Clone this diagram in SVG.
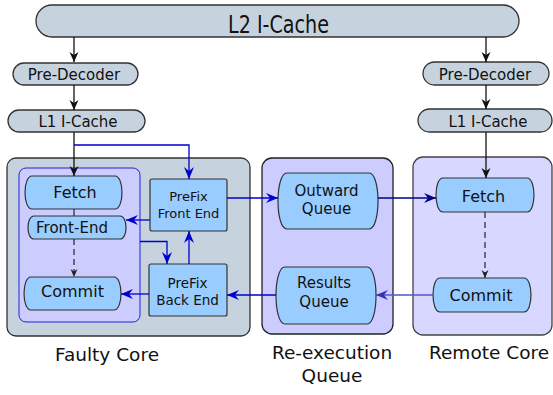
<svg xmlns="http://www.w3.org/2000/svg" width="553" height="395" viewBox="0 0 553 395">
<style>
text{font-family:"DejaVu Sans","Liberation Sans",sans-serif;fill:#111;text-anchor:middle}
.gray{fill:#c6d3df;stroke:#333;stroke-width:1.3}
.node{fill:#99ccff;stroke:#333;stroke-width:1.2}
.blk{fill:none;stroke:#111;stroke-width:1.3}
.dash{fill:none;stroke:#333;stroke-width:1.3;stroke-dasharray:6,4}
.blue{fill:none;stroke:#0000cc;stroke-width:1.3}
.navy{fill:none;stroke:#000088;stroke-width:1.3}
.lblue{fill:none;stroke:#5555cc;stroke-width:1.5}
.lbl{font-size:18.5px}
</style>
<defs>
<marker id="ak" viewBox="-11 -5 12 10" refX="0" refY="0" markerWidth="12" markerHeight="10" orient="auto" markerUnits="userSpaceOnUse"><path d="M0,0 L-10,-4.5 L-7,0 L-10,4.5 Z" fill="#111"/></marker>
<marker id="akS" viewBox="-9 -4 10 8" refX="0" refY="0" markerWidth="10" markerHeight="8" orient="auto" markerUnits="userSpaceOnUse"><path d="M0,0 L-8,-3.5 L-5.5,0 L-8,3.5 Z" fill="#222"/></marker>
<marker id="ab" viewBox="-13 -6 14 12" refX="0" refY="0" markerWidth="14" markerHeight="12" orient="auto" markerUnits="userSpaceOnUse"><path d="M0,0 L-12,-5 L-8,0 L-12,5 Z" fill="#0000cc"/></marker>
<marker id="an" viewBox="-13 -6 14 12" refX="0" refY="0" markerWidth="14" markerHeight="12" orient="auto" markerUnits="userSpaceOnUse"><path d="M0,0 L-12,-5 L-8,0 L-12,5 Z" fill="#000088"/></marker>
<marker id="al" viewBox="-13 -6 14 12" refX="0" refY="0" markerWidth="14" markerHeight="12" orient="auto" markerUnits="userSpaceOnUse"><path d="M0,0 L-12,-5 L-8,0 L-12,5 Z" fill="#3333bb"/></marker>
</defs>

<g id="l2-icache">
<rect class="gray" x="36" y="5" width="483" height="32" rx="16"/>
<text x="278.5" y="33" font-size="25" textLength="101" lengthAdjust="spacingAndGlyphs">L2 I-Cache</text>
</g>
<g id="predecoder-left">
<rect class="gray" x="13" y="63" width="125" height="22" rx="11"/>
<text x="74" y="80" font-size="15">Pre-Decoder</text>
</g>
<g id="l1-left">
<rect class="gray" x="8" y="110" width="137" height="22" rx="11"/>
<text x="78" y="127" font-size="15">L1 I-Cache</text>
</g>
<g id="predecoder-right">
<rect class="gray" x="423" y="62" width="126" height="23" rx="11.5"/>
<text x="485" y="80" font-size="15">Pre-Decoder</text>
</g>
<g id="l1-right">
<rect class="gray" x="418" y="109" width="134" height="23" rx="11.5"/>
<text x="488" y="127" font-size="15">L1 I-Cache</text>
</g>

<g id="faulty-core">
<rect class="gray" x="7" y="158" width="243" height="178" rx="9"/>
<rect x="19" y="168" width="121" height="154" rx="7" fill="#ccccff" stroke="#2222dd" stroke-width="1"/>
<text class="lbl" x="107" y="361">Faulty Core</text>
</g>
<g id="reexec-queue">
<rect x="262" y="158" width="131" height="176" rx="10" fill="#ccccff" stroke="#222" stroke-width="1.3"/>
<text class="lbl" x="332" y="359">Re-execution</text>
<text class="lbl" x="332" y="382">Queue</text>
</g>
<g id="remote-core">
<rect x="413" y="157" width="139" height="178" rx="10" fill="#d7d7ff" stroke="#444" stroke-width="1.3"/>
<text class="lbl" x="489" y="359">Remote Core</text>
</g>

<g id="fetch-faulty">
<path class="node" d="M32,176 H115 C124.3,176 124.3,209 115,209 H32 C22.7,209 22.7,176 32,176 Z"/>
<text x="75" y="198" font-size="16">Fetch</text>
</g>
<g id="frontend-faulty">
<path class="node" d="M34,216 H120 C128,216 128,239 120,239 H34 C26,239 26,216 34,216 Z"/>
<text x="72" y="232.5" font-size="15">Front-End</text>
</g>
<g id="commit-faulty">
<path class="node" d="M31,277 H114 C123.3,277 123.3,310 114,310 H31 C21.7,310 21.7,277 31,277 Z"/>
<text x="72.5" y="297" font-size="16">Commit</text>
</g>
<g id="prefix-front">
<rect class="node" x="150" y="179" width="77" height="52" rx="2"/>
<text x="188.5" y="201" font-size="13">PreFix</text>
<text x="188.5" y="218" font-size="13">Front End</text>
</g>
<g id="prefix-back">
<rect class="node" x="149" y="264" width="78" height="52" rx="2"/>
<text x="187.5" y="288" font-size="13.5">PreFix</text>
<text x="187.5" y="305" font-size="13.5">Back End</text>
</g>
<g id="outward-queue">
<path class="node" d="M287,173 H369 C381,173 381,229 369,229 H287 C275,229 275,173 287,173 Z"/>
<text x="326.5" y="196" font-size="15">Outward</text>
<text x="326.5" y="214" font-size="15">Queue</text>
</g>
<g id="results-queue">
<path class="node" d="M285,267 H367 C379,267 379,324 367,324 H285 C273,324 273,267 285,267 Z"/>
<text x="324" y="288" font-size="15">Results</text>
<text x="324" y="307" font-size="15">Queue</text>
</g>
<g id="fetch-remote">
<path class="node" d="M443,178 H527 C536.3,178 536.3,212 527,212 H443 C433.7,212 433.7,178 443,178 Z"/>
<text x="483.5" y="201.5" font-size="16">Fetch</text>
</g>
<g id="commit-remote">
<path class="node" d="M440,278 H524 C533.3,278 533.3,312 524,312 H440 C430.7,312 430.7,278 440,278 Z"/>
<text x="481" y="300.5" font-size="16">Commit</text>
</g>

<g id="connectors">
<path class="blk" d="M74,37 V62" marker-end="url(#ak)"/>
<path class="blk" d="M74,85 V110" marker-end="url(#ak)"/>
<path class="blk" d="M74,132 V176" marker-end="url(#ak)"/>
<path class="blk" d="M486,37 V62" marker-end="url(#ak)"/>
<path class="blk" d="M486,85 V109" marker-end="url(#ak)"/>
<path class="blk" d="M486,132 V178" marker-end="url(#ak)"/>
<path class="blue" d="M74,145 H189 V179" marker-end="url(#ab)"/>
<path class="blk" d="M74,209 V216" style="stroke:#333"/>
<path class="dash" d="M74,239 V277" marker-end="url(#akS)"/>
<path class="dash" d="M485,212 V278" marker-end="url(#akS)"/>
<path class="blue" d="M150,220 H126" marker-end="url(#ab)"/>
<path class="blue" d="M140,241.5 H167 V264" marker-end="url(#ab)"/>
<path class="blue" d="M189,264 V231" marker-end="url(#ab)"/>
<path class="blue" d="M149,294 H121" marker-end="url(#ab)"/>
<path class="blue" d="M227,198 H278" marker-end="url(#ab)"/>
<path class="blue" d="M276,295 H227" marker-end="url(#ab)"/>
<path class="navy" d="M378,198 H436" marker-end="url(#an)"/>
<path class="lblue" d="M433,295 H376" marker-end="url(#al)"/>
</g>
</svg>
